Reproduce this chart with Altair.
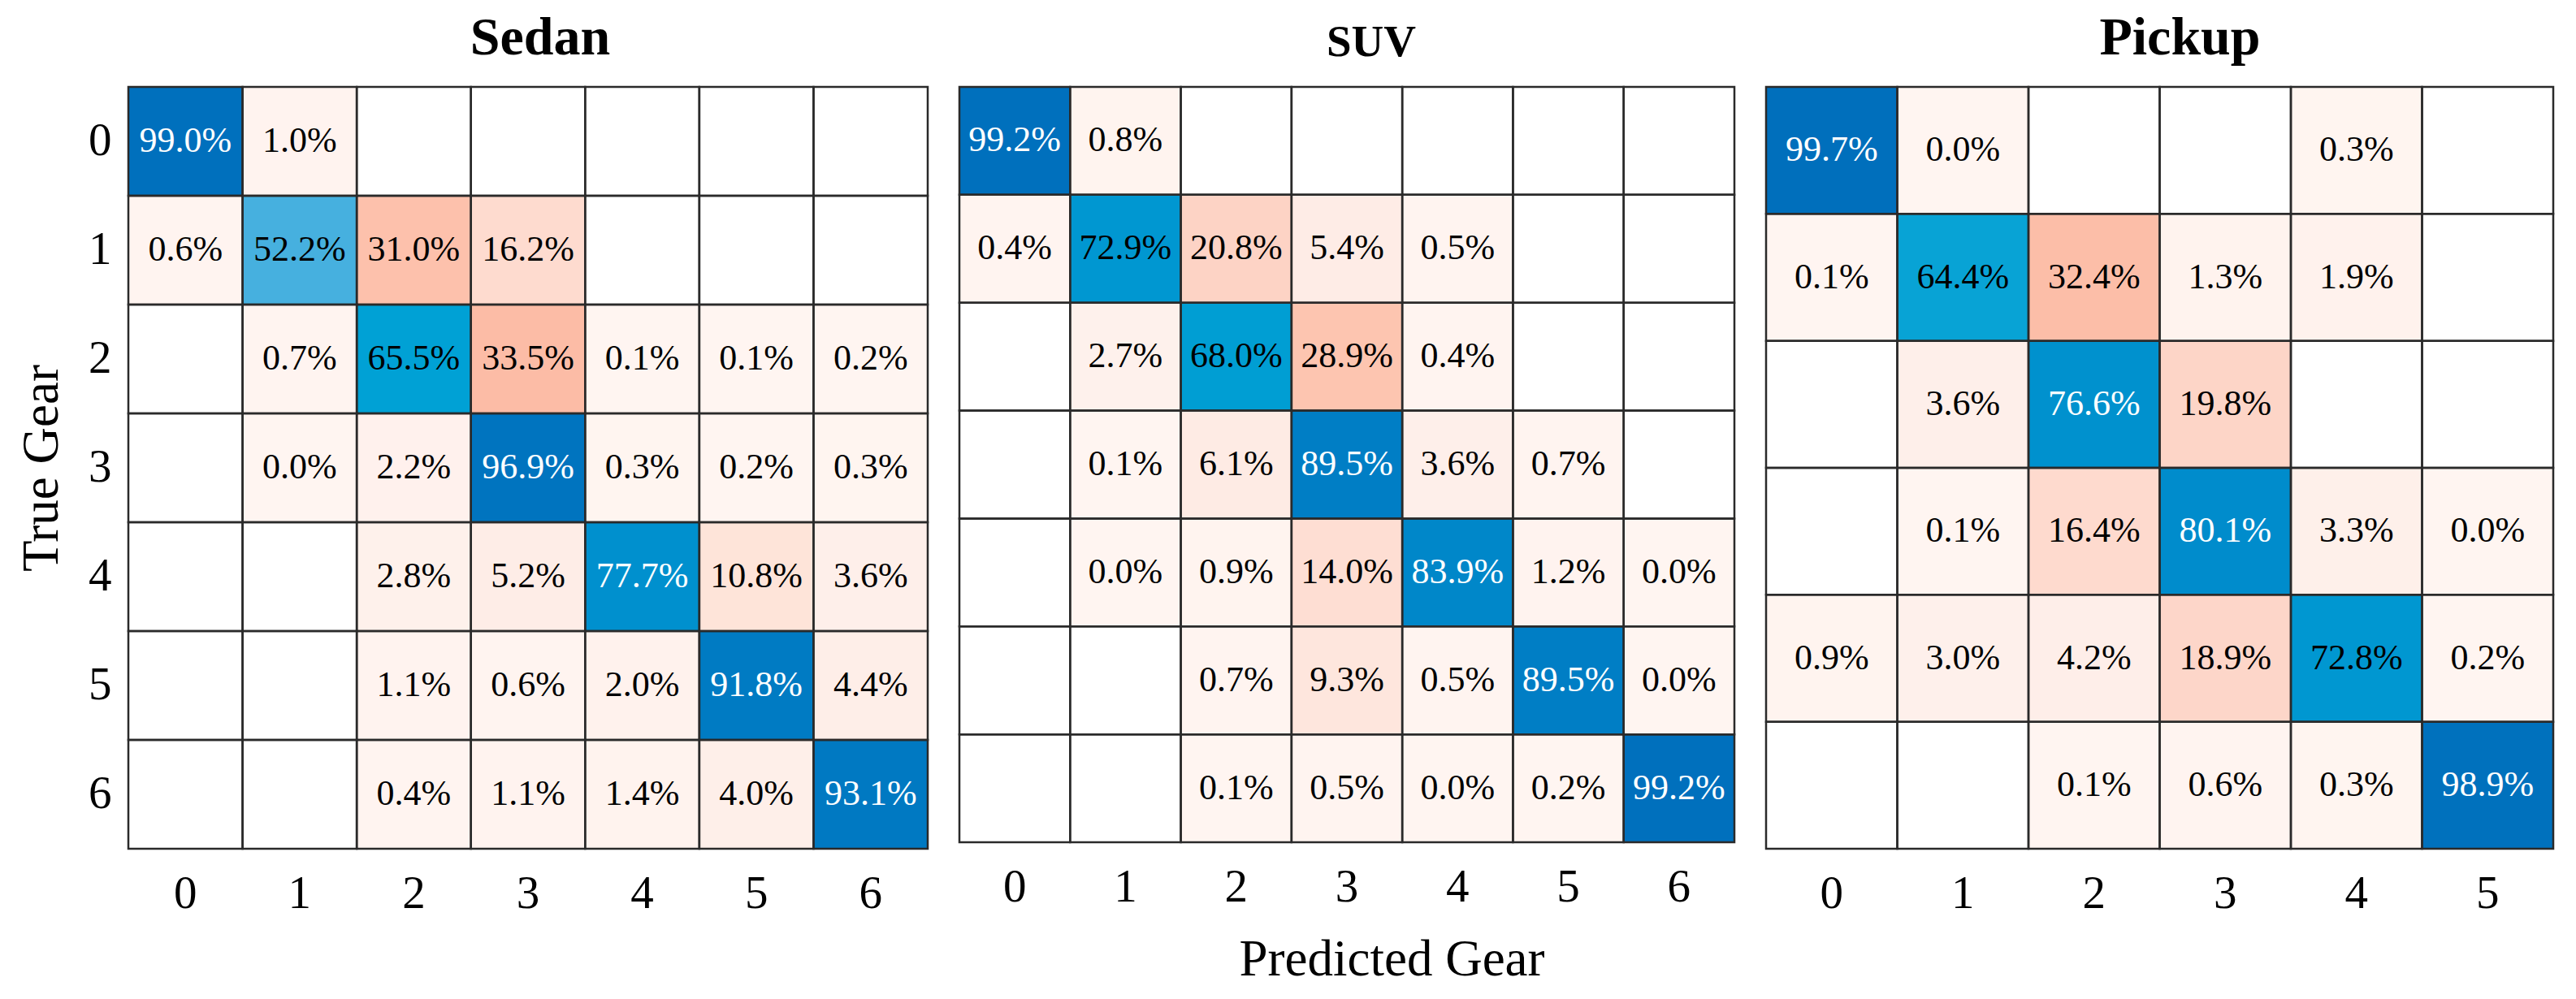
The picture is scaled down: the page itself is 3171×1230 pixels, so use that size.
import altair as alt
import pandas as pd

gears7 = ["0", "1", "2", "3", "4", "5", "6"]
gears6 = ["0", "1", "2", "3", "4", "5"]

sedan = [
    [99.0, 1.0, None, None, None, None, None],
    [0.6, 52.2, 31.0, 16.2, None, None, None],
    [None, 0.7, 65.5, 33.5, 0.1, 0.1, 0.2],
    [None, 0.0, 2.2, 96.9, 0.3, 0.2, 0.3],
    [None, None, 2.8, 5.2, 77.7, 10.8, 3.6],
    [None, None, 1.1, 0.6, 2.0, 91.8, 4.4],
    [None, None, 0.4, 1.1, 1.4, 4.0, 93.1],
]
suv = [
    [99.2, 0.8, None, None, None, None, None],
    [0.4, 72.9, 20.8, 5.4, 0.5, None, None],
    [None, 2.7, 68.0, 28.9, 0.4, None, None],
    [None, 0.1, 6.1, 89.5, 3.6, 0.7, None],
    [None, 0.0, 0.9, 14.0, 83.9, 1.2, 0.0],
    [None, None, 0.7, 9.3, 0.5, 89.5, 0.0],
    [None, None, 0.1, 0.5, 0.0, 0.2, 99.2],
]
pickup = [
    [99.7, 0.0, None, None, 0.3, None],
    [0.1, 64.4, 32.4, 1.3, 1.9, None],
    [None, 3.6, 76.6, 19.8, None, None],
    [None, 0.1, 16.4, 80.1, 3.3, 0.0],
    [0.9, 3.0, 4.2, 18.9, 72.8, 0.2],
    [None, None, 0.1, 0.6, 0.3, 98.9],
]

FONT = "Liberation Serif"


def to_long(mat, labels):
    rows = []
    for i, r in enumerate(mat):
        for j, v in enumerate(r):
            rows.append({
                "true": labels[i],
                "pred": labels[j],
                "value": v,
                "diag": i == j,
                "label": None if v is None else f"{v:.1f}%",
            })
    return pd.DataFrame(rows)


def panel(mat, labels, title, tsize, tdx, w, h, show_y, show_xtitle):
    df = to_long(mat, labels)
    base = alt.Chart(df)
    if show_xtitle:
        xaxis = alt.Axis(labelAngle=0, labelPadding=27, titlePadding=30, titleX=532)
    else:
        xaxis = alt.Axis(labelAngle=0, labelPadding=27)
    x = alt.X("pred:N", sort=labels,
              scale=alt.Scale(domain=labels, paddingInner=0, paddingOuter=0),
              title="Predicted Gear" if show_xtitle else None,
              axis=xaxis)
    if show_y:
        y = alt.Y("true:N", sort=labels,
                  scale=alt.Scale(domain=labels, paddingInner=0, paddingOuter=0),
                  title="True Gear",
                  axis=alt.Axis(labelPadding=21, titlePadding=25))
    else:
        y = alt.Y("true:N", sort=labels,
                  scale=alt.Scale(domain=labels, paddingInner=0, paddingOuter=0),
                  axis=None)

    off = base.transform_filter("datum.value != null && !datum.diag").mark_rect().encode(
        x=x, y=y,
        color=alt.Color("value:Q", legend=None,
                        scale=alt.Scale(domain=[0, 5, 10, 16, 21, 29, 34],
                                        range=["#fff5f1", "#feede7", "#fee5db", "#fedbcf",
                                               "#fdd3c5", "#fdc5b0", "#fcbba5"])))
    dg = base.transform_filter("datum.value != null && datum.diag").mark_rect().encode(
        x=x, y=y,
        color=alt.Color("value:Q", legend=None,
                        scale=alt.Scale(domain=[0, 52, 65, 100],
                                        range=["#ffffff", "#47b0df", "#00a2d5", "#006fbc"])))
    grid = base.mark_rect(fillOpacity=0, stroke="#2a2a2a", strokeWidth=2.5).encode(x=x, y=y)
    txt = base.transform_filter("datum.value != null").mark_text(
        font=FONT, fontSize=44).encode(
        x=x, y=y, text="label:N",
        color=alt.condition("datum.diag && datum.value >= 75",
                            alt.value("white"), alt.value("black")))
    return alt.layer(off, dg, grid, txt).resolve_scale(color="independent").properties(
        width=w, height=h,
        title=alt.TitleParams(title, font=FONT, fontSize=tsize, fontWeight="bold",
                              color="black", offset=25, dx=tdx))


p1 = panel(sedan, gears7, "Sedan", 66, 15, 984, 938, True, False)
p2 = panel(suv, gears7, "SUV", 55, 30, 954, 930, False, True)
p3 = panel(pickup, gears6, "Pickup", 66, 25, 969, 938, False, False)

chart = alt.hconcat(p1, p2, p3, spacing=35).configure_view(stroke=None).configure_axis(
    domain=False, ticks=False, grid=False,
    labelFont=FONT, labelFontSize=57, labelColor="black",
    titleFont=FONT, titleFontSize=63, titleColor="black", titleFontWeight="normal",
).properties(padding={"left": 12, "top": 5, "right": 5, "bottom": 5})

chart.save("out.html", embed_options={"renderer": "svg", "actions": False})
